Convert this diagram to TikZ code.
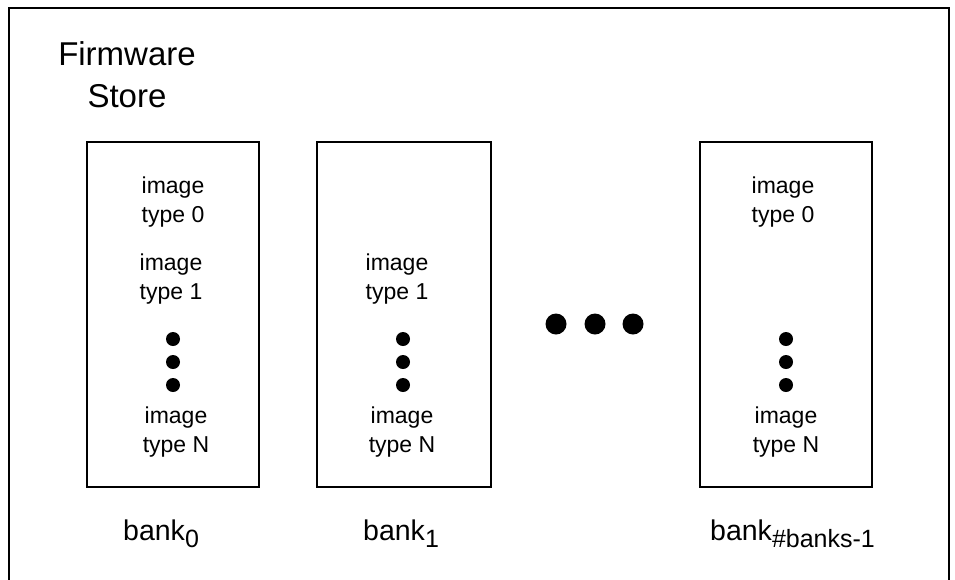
\documentclass[tikz,border=0pt]{standalone}
\usepackage{fontspec}
\setmainfont{Liberation Sans}
\newcommand\banksub[1]{\raisebox{-7pt}{\fontsize{25}{25}\selectfont #1}}
\begin{document}
\begin{tikzpicture}[x=1pt,y=-1pt,
  frame/.style={draw,line width=1.5pt},
  bankbox/.style={draw,line width=1.5pt,inner sep=0pt,minimum height=345pt},
  lbl/.style={align=center,inner sep=0pt,font=\fontsize{23}{29}\selectfont},
  vdot/.style={circle,fill,inner sep=0pt,minimum size=14pt},
  hdot/.style={circle,fill,inner sep=0pt,minimum size=21pt},
  banklbl/.style={anchor=base west,inner sep=0pt,font=\fontsize{28.5}{34}\selectfont}]
\useasboundingbox (0,0) rectangle (955,579);
\clip (0,0) rectangle (955,579);
\draw[frame] (9,8) rectangle (949,600);
\node[align=center,inner sep=0pt,font=\fontsize{33}{42}\selectfont] (title) at (127,74.4) {Firmware\\Store};
% bank boxes
\node[bankbox,minimum width=172pt] (b0) at (173,314.5) {};
\node[bankbox,minimum width=174pt] (b1) at (404,314.5) {};
\node[bankbox,minimum width=172pt] (b2) at (786,314.5) {};
% bank 0 contents
\node[lbl] (b0t0) at (173,201.7) {image\\type 0};
\node[lbl] (b0t1) at (171,278.7) {image\\type 1};
\node[vdot] (b0d1) at (173,339) {};
\node[vdot] (b0d2) at (173,362) {};
\node[vdot] (b0d3) at (173,385) {};
\node[lbl] (b0tn) at (176,431.7) {image\\type N};
% bank 1 contents
\node[lbl] (b1t1) at (397,278.7) {image\\type 1};
\node[vdot] (b1d1) at (403,339) {};
\node[vdot] (b1d2) at (403,362) {};
\node[vdot] (b1d3) at (403,385) {};
\node[lbl] (b1tn) at (402,431.7) {image\\type N};
% bank last contents
\node[lbl] (b2t0) at (783,201.7) {image\\type 0};
\node[vdot] (b2d1) at (786,339) {};
\node[vdot] (b2d2) at (786,362) {};
\node[vdot] (b2d3) at (786,385) {};
\node[lbl] (b2tn) at (786,431.7) {image\\type N};
% horizontal ellipsis
\node[hdot] (h1) at (556,324) {};
\node[hdot] (h2) at (595,324) {};
\node[hdot] (h3) at (633,324) {};
% bank labels
\node[banklbl] (bl0) at (123,540) {bank\banksub{0}};
\node[banklbl] (bl1) at (363,540) {bank\banksub{1}};
\node[banklbl] (bl2) at (710,540) {bank\banksub{\#banks-1}};
\end{tikzpicture}
\end{document}
